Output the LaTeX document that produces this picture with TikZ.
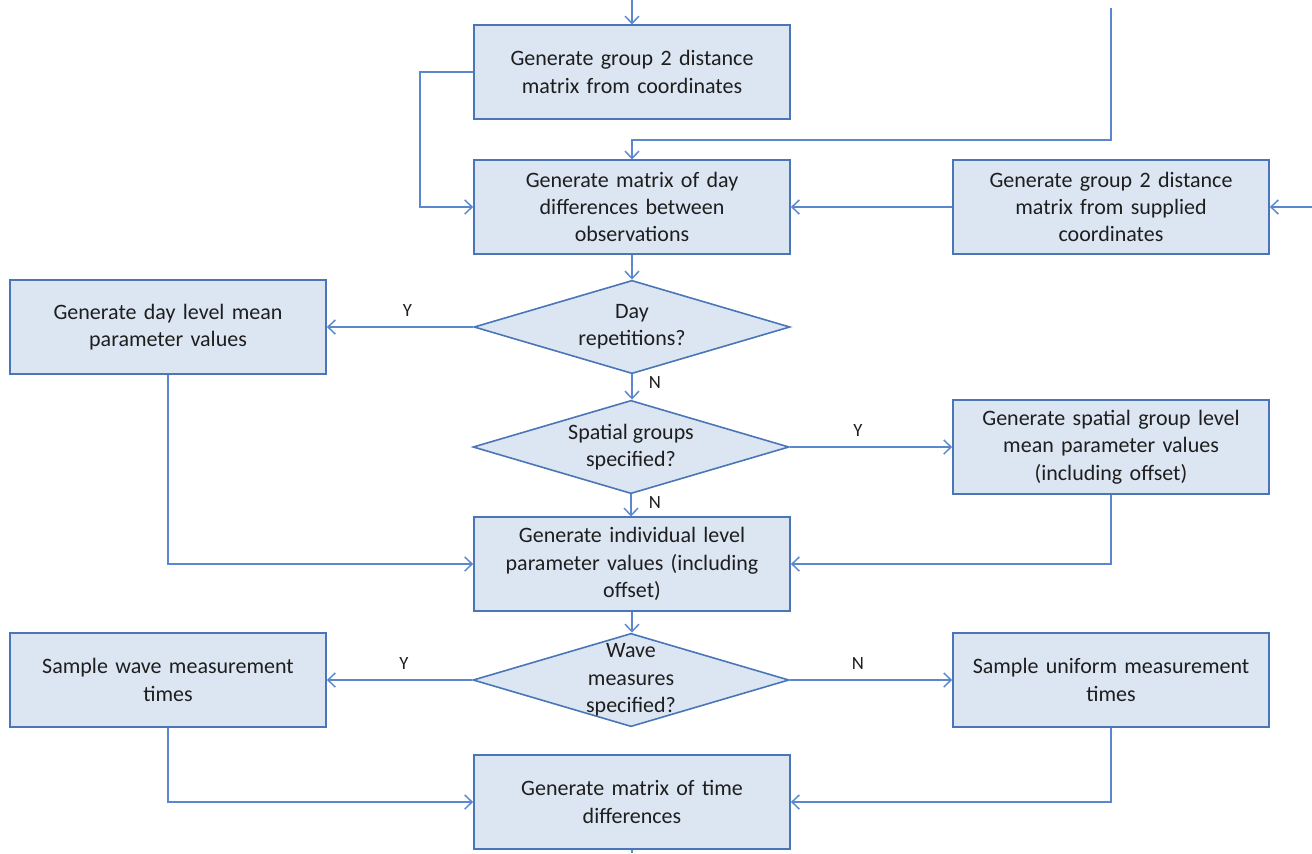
\documentclass[tikz,border=0pt]{standalone}
\usepackage{fontspec}
\setmainfont{Carlito}
\usetikzlibrary{shapes.geometric,arrows.meta}
\definecolor{boxfill}{HTML}{DCE6F2}
\definecolor{boxline}{HTML}{4A76B8}
\definecolor{linkcol}{HTML}{5B87D0}
\definecolor{txt}{HTML}{1E1E1E}
\begin{document}
\begin{tikzpicture}[x=0.75pt,y=-0.75pt,
  every node/.style={text=txt,font=\fontsize{16.5}{20.5}\selectfont},
  procbox/.style={draw=boxline,fill=boxfill,line width=1.3pt,rectangle,
    minimum width=237pt,minimum height=70pt,inner sep=0pt,
    text width=220pt,align=center},
  decision/.style={draw=boxline,fill=boxfill,line width=1.2pt,diamond,
    minimum width=237pt,minimum height=70pt,inner sep=0pt},
  dtext/.style={align=center,inner sep=0pt},
  yn/.style={font=\fontsize{14}{16}\selectfont,inner sep=0pt},
  link/.style={draw=linkcol,line width=1.3pt},
  arr/.style={link,-{Straight Barb[length=5.5pt,width=10.5pt,line width=1.1pt]}}
]
\useasboundingbox (0,0) rectangle (1312,853);

% process boxes
\node[procbox] (gdist)  at (632,72)   {Generate group 2 distance\\matrix from coordinates};
\node[procbox] (dayd)   at (632,207)  {Generate matrix of day\\differences between\\observations};
\node[procbox] (gsup)   at (1111,207) {Generate group 2 distance\\matrix from supplied\\coordinates};
\node[procbox] (daymean) at (168,327) {Generate day level mean\\parameter values};
\node[procbox] (spmean) at (1111,447) {Generate spatial group level\\mean parameter values\\(including offset)};
\node[procbox] (indiv)  at (632,564)  {Generate individual level\\parameter values (including\\offset)};
\node[procbox] (wave)   at (168,680)  {Sample wave measurement\\times};
\node[procbox] (unif)   at (1111,680) {Sample uniform measurement\\times};
\node[procbox] (timed)  at (632,802)  {Generate matrix of time\\differences};

% decisions
\node[decision] (drep) at (632,327) {};
\node[dtext] (drept) at (drep) {Day\\repetitions?};
\node[decision] (dsp) at (631,447) {};
\node[dtext] (dspt) at (dsp) {Spatial groups\\specified?};
\node[decision] (dwave) at (631,680) {};
\node[dtext] (dwavet) at (dwave) {Wave\\measures\\specified?};

% loose ends at the frame
\coordinate (intop) at (632,0);
\coordinate (inright) at (1111,8);
\coordinate (inside) at (1312,207);
\coordinate (outbot) at (632,853);

% connectors
\draw[arr] (intop) -- (gdist.north);
\draw[arr] (gdist.west) -- (420,72) |- (dayd.west);
\draw[arr] (inright) |- (632,140) -- (dayd.north);
\draw[arr] (inside) -- (gsup.east);
\draw[arr] (gsup.west) -- (dayd.east);
\draw[arr] (dayd.south) -- (drep.north);
\draw[arr] (drep.west) -- node[yn,pos=0.45,above=7pt]{Y} (daymean.east);
\draw[arr] (drep.south) -- (dsp.north -| drep.south);
\node[yn] (n1) at (655,383) {N};
\draw[arr] (dsp.east) -- node[yn,pos=0.42,above=7pt]{Y} (spmean.west);
\draw[arr] (dsp.south) -- (indiv.north -| dsp.south);
\node[yn] (n2) at (655,503) {N};
\draw[arr] (daymean.south) |- (indiv.west);
\draw[arr] (spmean.south) |- (indiv.east);
\draw[arr] (indiv.south) -- (dwave.north -| indiv.south);
\draw[arr] (dwave.west) -- node[yn,pos=0.47,above=7pt]{Y} (wave.east);
\draw[arr] (dwave.east) -- node[yn,pos=0.42,above=7pt]{N} (unif.west);
\draw[arr] (wave.south) |- (timed.west);
\draw[arr] (unif.south) |- (timed.east);
\draw[link] (timed.south) -- (outbot);
\end{tikzpicture}
\end{document}
